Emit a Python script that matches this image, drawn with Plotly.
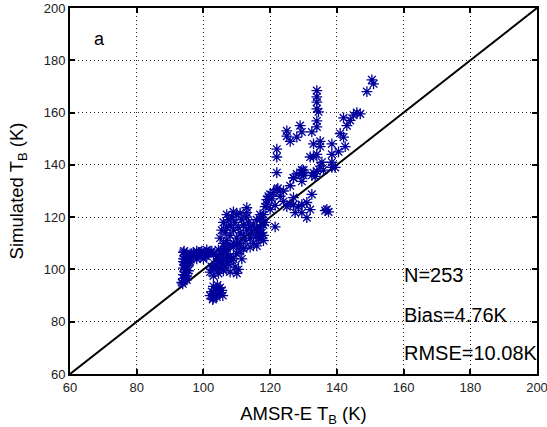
import plotly.graph_objects as go

# AMSR-E observed brightness temperature (K) and simulated brightness temperature (K)
amsr_tb = [
    # left vertical band
    93.5, 94, 94, 94.5, 94, 95, 94.5, 95, 94, 95.5, 94.5, 95, 94, 95, 95.5, 94.5, 96, 95, 94, 93.8, 95.2, 94.6, 95.8, 94.2, 95,
    # top band
    96, 96.5, 97, 97.5, 98, 98.5, 99, 99.5, 100, 100.5, 101, 101.5, 102, 97, 98, 99, 100, 101, 102.5, 103,
    # bottom cluster
    102, 102.5, 103, 103.5, 104, 104.5, 105, 105.5, 103, 104, 105, 102.8, 104.2, 105.8,
    # right of diagonal
    102, 103, 103.5, 104, 104.5, 105, 105.5, 106, 106.5, 107, 103, 104.5, 106, 107.5, 102.5,
    # lower band
    104, 105, 106, 107, 108, 109, 110, 111, 112, 105.5, 107.5, 108.5, 109.5, 110.5, 111.5, 106.5, 108, 110, 104.5, 109,
    # dense cluster
    105, 105.5, 106, 106, 106.5, 107, 107, 107.5, 108, 108, 108.5, 109, 109, 109.5, 110, 110, 110.5, 111, 111, 111.5,
    112, 112, 112.5, 113, 113, 113.5, 114, 114, 114.5, 115, 115, 115.5, 116, 116, 116.5, 117, 117, 117.5, 118, 118.5,
    106.5, 108, 110, 112, 114, 116, 118, 107, 109, 111, 113, 113, 117, 117, 118,
    # 117-122 group
    117.5, 117, 118, 118.5, 119, 119.5, 120, 120.5, 121, 121.5, 122, 122.3, 119, 120, 121.5,
    # 122-133 group
    122, 122, 122, 123, 124, 125, 126, 127, 127, 128.5, 129.5, 131, 132.5, 127.5, 129.5, 132, 131, 129.5, 130, 127,
    129.5, 130, 128, 126, 124,
    # upper group
    134, 134, 134, 134, 134.5, 134, 134, 125, 125, 126, 129, 129.5, 128, 132.5, 135, 135, 133,
    138.5, 138.5, 138.5, 138.5, 132, 133, 134, 135.5, 135, 136, 129.5, 130, 127, 133, 133.5, 132.5, 134, 139.5,
    136.5, 137, 137.5,
    142, 142, 142.5, 141, 144, 145, 146, 143, 140.5, 147, 150.5, 151, 149,
]
simulated_tb = [
    95, 96.5, 98, 99, 100.5, 101, 102, 103, 104, 104.5, 105, 106, 106.5, 97.5, 99.5, 101.5, 103, 105.5, 103, 94.5, 98.5, 100, 102.5, 107, 96,
    105, 106, 106.5, 105.5, 107, 106, 106.5, 107, 106, 105.5, 107.5, 106, 106.5, 104.5, 104, 105, 104, 105, 107, 106,
    90, 91.5, 89, 92, 90.5, 92.5, 91, 92, 93.5, 89.5, 93, 88.5, 94, 90,
    99, 100, 102, 101, 103, 100.5, 102, 104, 101.5, 103, 97.5, 98.5, 99.5, 104.5, 101,
    105, 106, 107, 106, 105, 104, 106, 107, 108, 103, 102, 103.5, 101, 100, 104, 108, 99, 98.5, 107.5, 108.5,
    112, 115, 110, 118, 114, 111, 116, 119, 113, 117, 120, 110, 115, 118, 112, 121, 116, 110, 114, 119,
    113, 117, 111, 115, 120, 118, 112, 116, 114, 110, 117, 113, 115, 119, 112, 116, 121, 114, 117, 118,
    108.5, 109, 109.5, 108, 108.5, 109, 111, 121, 122, 121.5, 123.6, 121.7, 114, 112, 113,
    120, 119, 121, 124, 126.7, 128, 128.7, 127, 129.5, 116.3, 130.6, 131, 125, 123, 124.5,
    146, 143, 137, 128, 126, 124, 125, 127.5, 124.8, 124, 124.8, 125.6, 128.7, 121.7, 121.7, 122.9, 119.8, 137, 136, 135,
    133.7, 138, 136.5, 132, 130,
    168.4, 166, 164, 161.4, 160.3, 156.8, 154.5, 153, 151, 149, 155, 152.6, 150.6, 152.6, 149, 147, 148,
    148, 144, 141, 139, 143, 143, 144, 141, 139.5, 138, 138, 137, 135, 137, 135.6, 136, 137.5, 139,
    122.5, 123, 122,
    158, 150.6, 147, 152, 157, 159, 160, 155, 145, 159.5, 172.5, 171, 168,
]

axis_range = [60, 200]
tick_values = [60, 80, 100, 120, 140, 160, 180, 200]
panel_label = "a"
stats_lines = ["N=253", "Bias=4.76K", "RMSE=10.08K"]
stats_y = [97.8, 82.6, 68]

FONT = "Liberation Sans, Arial, Helvetica"

fig = go.Figure()
fig.add_trace(go.Scatter(
    x=axis_range, y=axis_range, mode="lines",
    line=dict(color="black", width=2), showlegend=False, hoverinfo="skip",
))
fig.add_trace(go.Scatter(
    x=amsr_tb, y=simulated_tb, mode="markers",
    marker=dict(symbol="asterisk-open", size=9, color="#00009c",
                line=dict(color="#00009c", width=1.3)),
    showlegend=False,
))

fig.add_annotation(x=66.5, y=188, text=panel_label, showarrow=False,
                   xanchor="left", yanchor="middle",
                   font=dict(family=FONT, size=18, color="black"))
for txt, yy in zip(stats_lines, stats_y):
    fig.add_annotation(x=159.6, y=yy, text=txt, showarrow=False,
                       xanchor="left", yanchor="middle",
                       font=dict(family=FONT, size=20, color="black"))

axis_common = dict(
    range=axis_range, tickvals=tick_values, ticks="inside", ticklen=5,
    tickwidth=1.5, tickcolor="black",
    showline=True, linecolor="black", linewidth=2, mirror="ticks",
    showgrid=True, gridcolor="#222222", gridwidth=1, griddash="1px,3px",
    zeroline=False, automargin=False, ticklabeloverflow="allow",
    tickfont=dict(family=FONT, size=13, color="#222222"),
)
fig.update_xaxes(**axis_common,
                 title=dict(text="AMSR-E T<sub>B</sub> (K)",
                            font=dict(family=FONT, size=18.5, color="black")))
fig.update_yaxes(**axis_common,
                 title=dict(text="Simulated T<sub>B</sub> (K)",
                            font=dict(family=FONT, size=18.5, color="black")))

fig.update_layout(
    width=547, height=427,
    margin=dict(l=70, r=10, t=8, b=53, autoexpand=False),
    plot_bgcolor="white", paper_bgcolor="white",
)

fig.write_html("out.html")
